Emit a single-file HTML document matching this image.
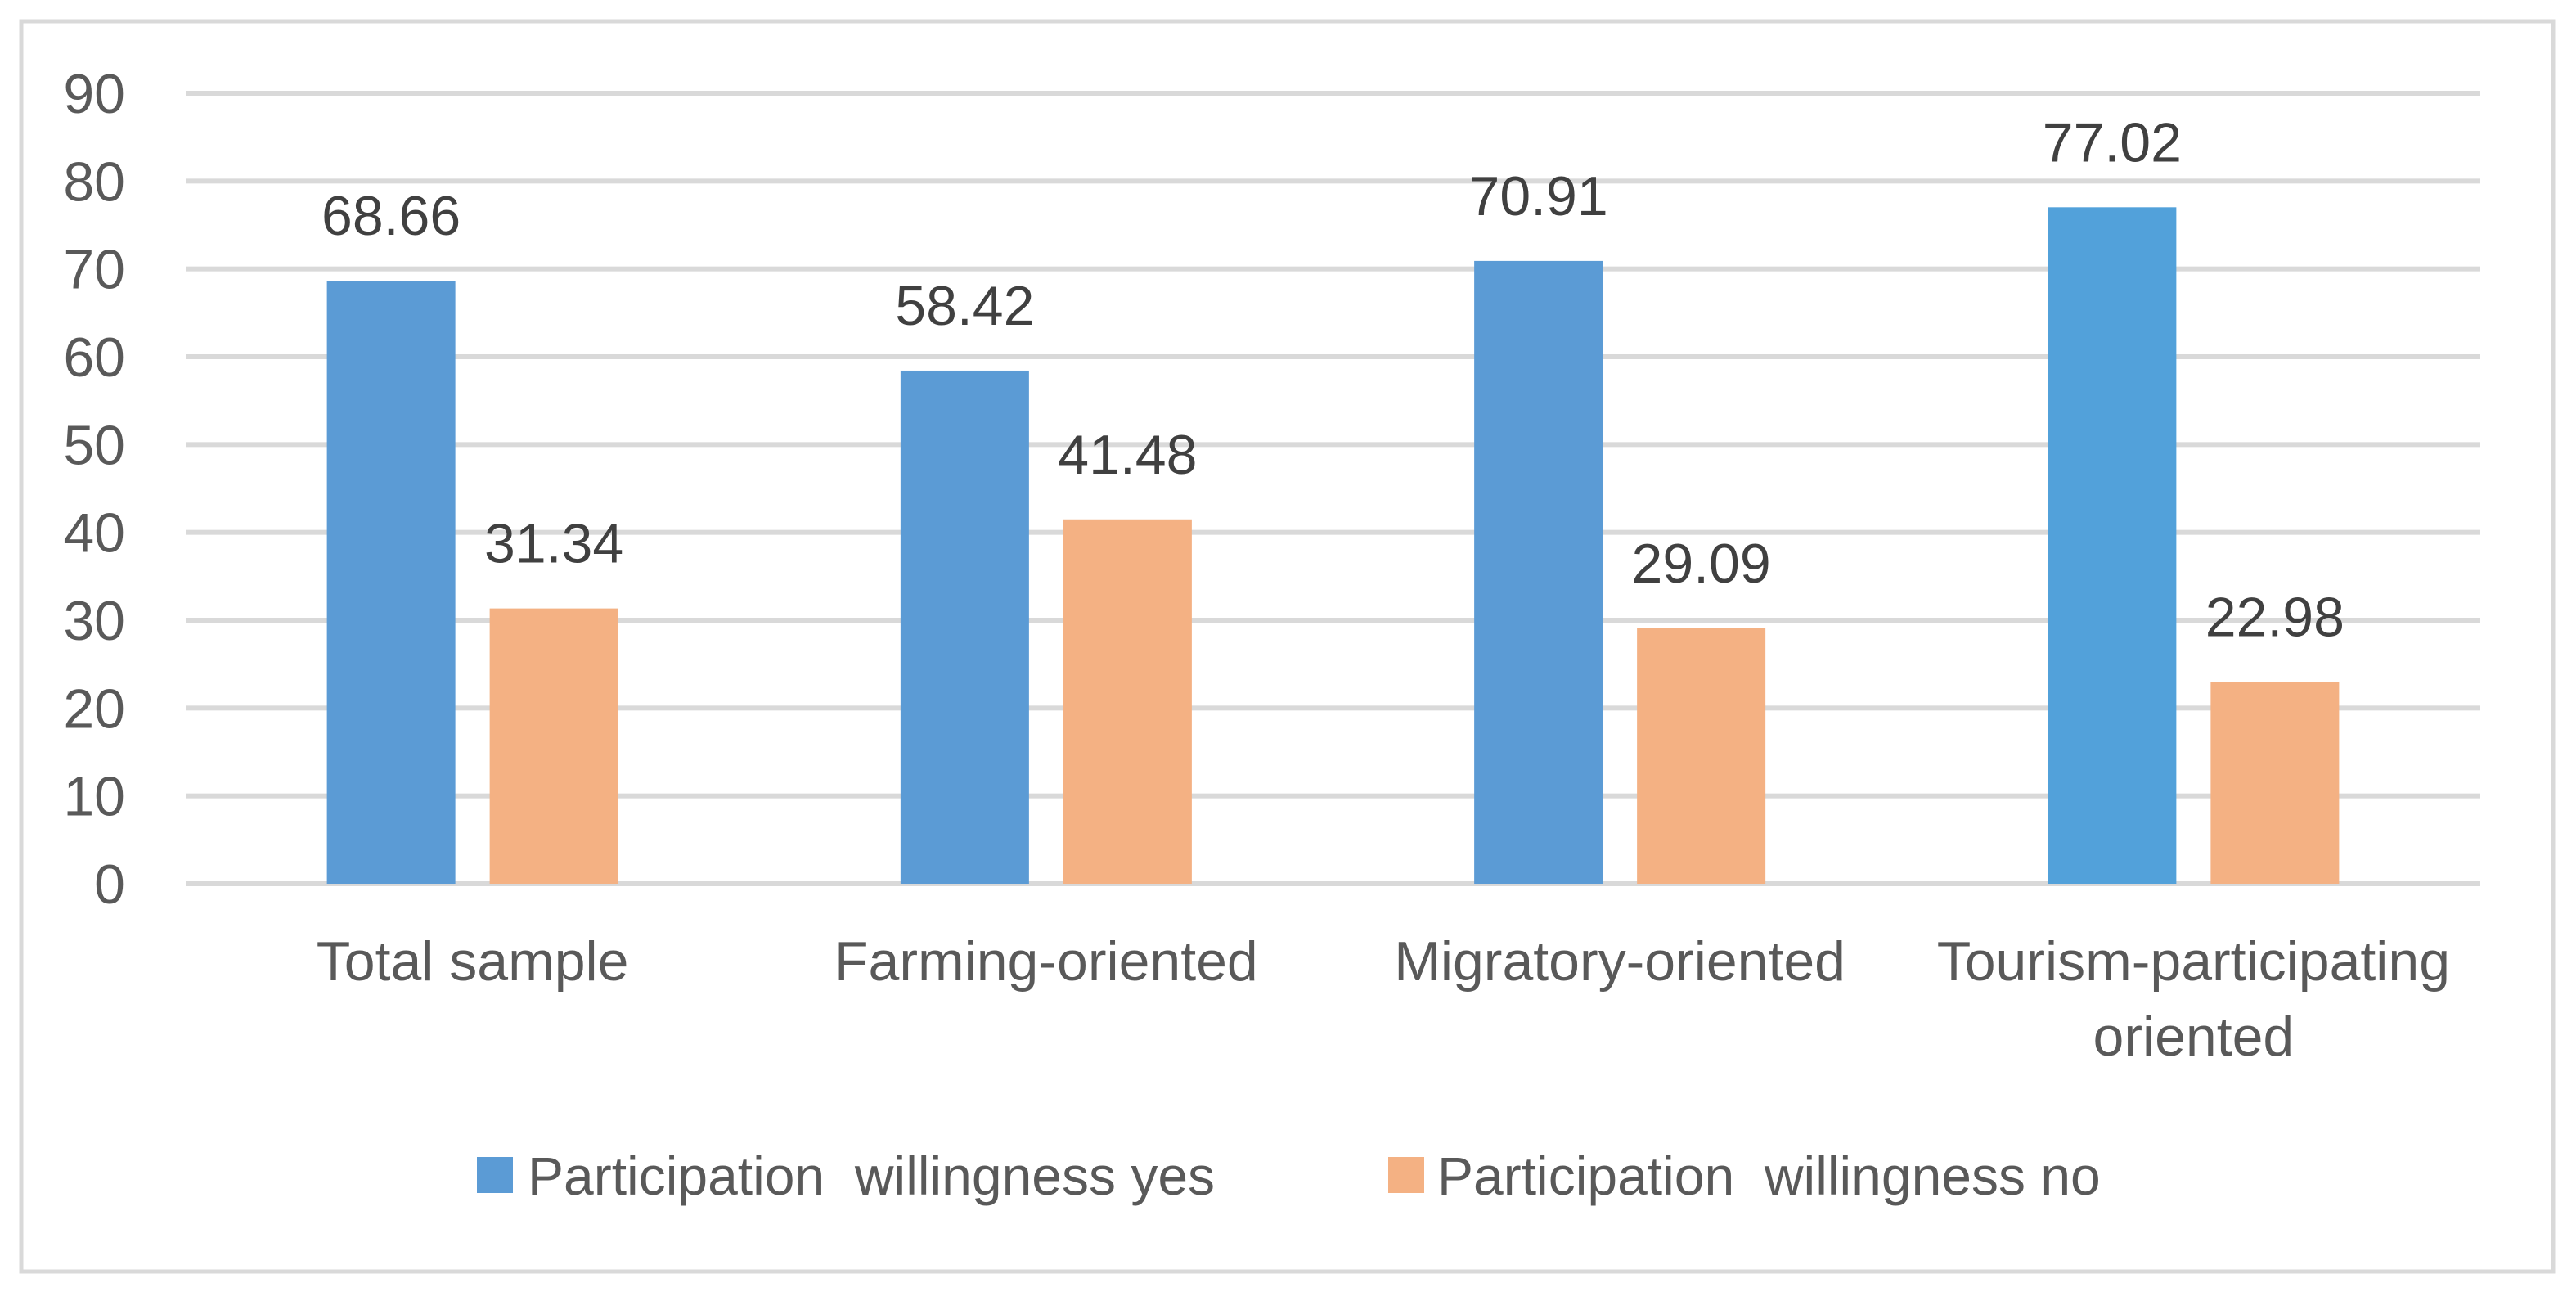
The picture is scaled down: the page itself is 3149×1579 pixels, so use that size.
<!DOCTYPE html>
<html><head><meta charset="utf-8"><style>
html,body{margin:0;padding:0;background:#fff;}
svg{display:block;font-family:"Liberation Sans",sans-serif;}
</style></head><body>
<svg id="chart" width="3149" height="1579" viewBox="0 0 3149 1579">
<rect x="26" y="26" width="3095" height="1528" fill="#fff" stroke="#d9d9d9" stroke-width="5"/>
<g id="grid"></g><g id="yticks"></g><g id="bars"></g><g id="labels"></g><g id="cats"></g>
<g>
<rect x="583" y="1414" width="44" height="44" fill="#5b9bd5"/>
<text x="645" y="1460" font-size="66" fill="#595959" xml:space="preserve">Participation  willingness yes</text>
<rect x="1697" y="1414" width="44" height="44" fill="#f4b183"/>
<text x="1757" y="1460" font-size="66" fill="#595959" xml:space="preserve">Participation  willingness no</text>
</g>
</svg>
<script>
const categories = [["Total sample"],["Farming-oriented"],["Migratory-oriented"],["Tourism-participating","oriented"]];
const yesValues = [68.66, 58.42, 70.91, 77.02];
const noValues = [31.34, 41.48, 29.09, 22.98];
const yesLabels = ["68.66","58.42","70.91","77.02"];
const noLabels = ["31.34","41.48","29.09","22.98"];
const yTicks = [0,10,20,30,40,50,60,70,80,90];

const NS="http://www.w3.org/2000/svg";
const x0=227,x1=3032,y0=1080,yTop=114,yMax=90;
const yScale=v=>y0-(v/yMax)*(y0-yTop);
const catW=(x1-x0)/categories.length;
const catCenter=i=>x0+catW*(i+0.5);
const barW=157,off=99.5;
function mk(tag,attrs,parent){const e=document.createElementNS(NS,tag);for(const k in attrs)e.setAttribute(k,attrs[k]);document.getElementById(parent).appendChild(e);return e;}
yTicks.forEach(t=>{
  const l=mk('rect',{x:x0,y:yScale(t)-3,width:x1-x0,height:6,fill:'#d9d9d9'},'grid');
  
  
  const tx=mk('text',{x:153,y:yScale(t)+24,'font-size':68,fill:'#595959','text-anchor':'end'},'yticks');
  tx.textContent=t;
  
  
});
categories.forEach((c,i)=>{
  const cx=catCenter(i);
  [[yesValues,yesLabels,-off,i==3?'#52a1da':'#5b9bd5','yes'],[noValues,noLabels,off,'#f4b183','no']].forEach(([vals,labs,o,col,nm])=>{
    const v=vals[i];
    const b=mk('rect',{x:cx+o-barW/2,y:yScale(v),width:barW,height:y0-yScale(v),fill:col},'bars');
    
    
    const t=mk('text',{x:cx+o,y:yScale(v)-56,'font-size':68,fill:'#404040','text-anchor':'middle'},'labels');
    t.textContent=labs[i];
    
    
  });
  c.forEach((line,j)=>{
    const t=mk('text',{x:cx,y:1198+j*92,'font-size':68,fill:'#595959','text-anchor':'middle'},'cats');
    t.textContent=line;
    
    
  });
});
</script>
</body></html>
